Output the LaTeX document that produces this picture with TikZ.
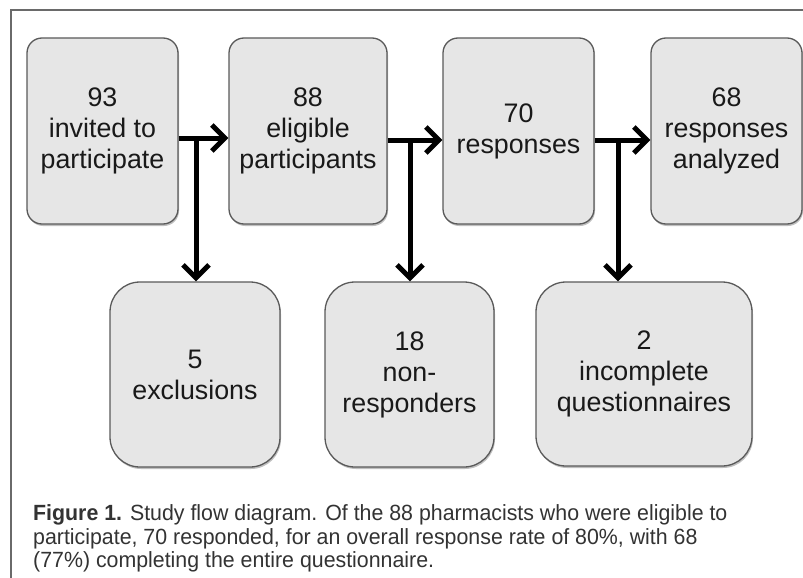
\documentclass[tikz,border=0pt]{standalone}
\usepackage{fontspec}
\setmainfont{Liberation Sans}
\newfontfamily\capfont[FakeStretch=0.97]{Liberation Sans}
\usetikzlibrary{arrows.meta,shadows}
\definecolor{boxfill}{HTML}{E6E6E6}
\definecolor{boxline}{HTML}{5A5A5A}
\definecolor{frameline}{HTML}{6A6A6A}
\definecolor{captext}{HTML}{333333}
\tikzset{
  flowbox/.style={draw=boxline, line width=1.3pt, fill=boxfill, rounded corners=15pt,
    align=center, inner sep=0pt, text=black!90,
    font=\fontsize{26.8}{31}\selectfont,
    drop shadow={shadow xshift=1pt, shadow yshift=-2pt, opacity=0.25, fill=black}},
  sidebox/.style={flowbox, rounded corners=30pt},
  arr/.style={line width=5pt, -{Straight Barb[length=13pt,width=26pt,line width=5pt]}},
  capline/.style={anchor=base west, inner sep=0pt, text=captext, font=\capfont\fontsize{22}{24}\selectfont}
}
\begin{document}
\begin{tikzpicture}[x=1pt,y=-1pt]
\useasboundingbox (0,0) rectangle (803,578);
\fill[white] (0,0) rectangle (803,578);
\draw[frameline, line width=1.5pt] (11,578) -- (11,10) -- (803,10);

\node[flowbox, minimum width=151pt, minimum height=186pt] (b1) at (102.5,131) {93\\invited to\\participate};
\node[flowbox, minimum width=158pt, minimum height=186pt] (b2) at (308,131) {88\\eligible\\participants};
\node[flowbox, minimum width=151pt, minimum height=186pt] (b3) at (518.5,131) {70\\responses};
\node[flowbox, minimum width=151pt, minimum height=186pt] (b4) at (726.5,131) {68\\responses\\analyzed};

\node[sidebox, minimum width=170pt, minimum height=185pt] (b5) at (195,374.5) {5\\exclusions};
\node[sidebox, minimum width=169pt, minimum height=185pt] (b6) at (409.5,374.5) {18\\non-\\responders};
\node[sidebox, minimum width=216pt, minimum height=184pt] (b7) at (644,374) {2\\incomplete\\questionnaires};

\coordinate (j1) at (196,138);
\coordinate (j2) at (410,140);
\coordinate (j3) at (618,140);

\draw[arr] (b1.east |- j1) -- (b2.west |- j1);
\draw[arr] (j1) -- (j1 |- b5.north);
\draw[arr] (b2.east |- j2) -- (b3.west |- j2);
\draw[arr] (j2) -- (j2 |- b6.north);
\draw[arr] (b3.east |- j3) -- (b4.west |- j3);
\draw[arr] (j3) -- (j3 |- b7.north);

\node[capline] (c1) at (33,520) {\textbf{Figure 1.} Study flow diagram. Of the 88 pharmacists who were eligible to};
\node[capline] (c2) at (33,544) {participate, 70 responded, for an overall response rate of 80\%, with 68};
\node[capline] (c3) at (33,567) {(77\%) completing the entire questionnaire.};
\end{tikzpicture}
\end{document}
